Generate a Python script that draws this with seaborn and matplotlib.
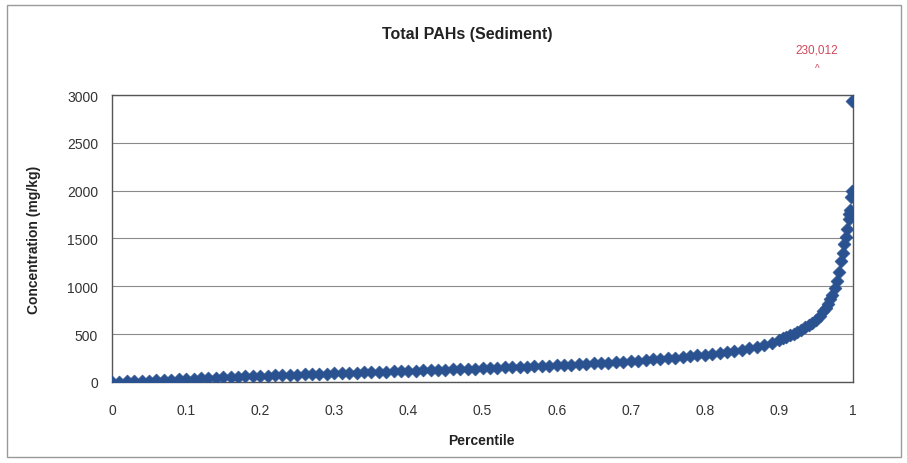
import numpy as np
import pandas as pd
import seaborn as sns
import matplotlib.pyplot as plt
from matplotlib.patches import Rectangle

# percentile ranks and sorted concentrations (mg/kg)
percentile = [
    0.00, 0.01, 0.02, 0.03, 0.04, 0.05, 0.06, 0.07, 0.08, 0.09,
    0.10, 0.11, 0.12, 0.13, 0.14, 0.15, 0.16, 0.17, 0.18, 0.19,
    0.20, 0.21, 0.22, 0.23, 0.24, 0.25, 0.26, 0.27, 0.28, 0.29,
    0.30, 0.31, 0.32, 0.33, 0.34, 0.35, 0.36, 0.37, 0.38, 0.39,
    0.40, 0.41, 0.42, 0.43, 0.44, 0.45, 0.46, 0.47, 0.48, 0.49,
    0.50, 0.51, 0.52, 0.53, 0.54, 0.55, 0.56, 0.57, 0.58, 0.59,
    0.60, 0.61, 0.62, 0.63, 0.64, 0.65, 0.66, 0.67, 0.68, 0.69,
    0.70, 0.71, 0.72, 0.73, 0.74, 0.75, 0.76, 0.77, 0.78, 0.79,
    0.80, 0.81, 0.82, 0.83, 0.84, 0.85, 0.86, 0.87, 0.88, 0.89,
    0.90, 0.905, 0.91, 0.915, 0.92, 0.925, 0.93, 0.935, 0.94, 0.945,
    0.95, 0.955, 0.96, 0.963, 0.966, 0.969, 0.972, 0.975, 0.978, 0.981,
    0.984, 0.986, 0.988, 0.990, 0.992, 0.994, 0.995, 0.996, 0.997, 0.998,
    0.999, 1.00,
]
concentration = [
    2, 5, 8, 10, 12, 14, 17, 20, 23, 26,
    30, 33, 37, 40, 44, 48, 52, 55, 58, 61,
    64, 67, 70, 72, 75, 78, 80, 83, 86, 88,
    91, 93, 96, 98, 101, 103, 106, 108, 111, 113,
    116, 118, 121, 123, 126, 128, 131, 134, 137, 140,
    143, 146, 149, 152, 155, 158, 161, 164, 167, 170,
    174, 178, 182, 186, 190, 194, 198, 203, 208, 213,
    218, 224, 230, 236, 242, 248, 255, 262, 270, 278,
    287, 296, 305, 315, 326, 338, 352, 368, 388, 412,
    440, 455, 470, 488, 505, 525, 548, 570, 595, 620,
    650, 690, 740, 775, 820, 865, 910, 980, 1060, 1150,
    1260, 1350, 1440, 1520, 1600, 1700, 1760, 1800, 1930, 2000,
    2940, 230012,
]
max_label = "230,012"

df = pd.DataFrame({"Percentile": percentile, "Concentration": concentration})

sns.set_style("white")
plt.rcParams["font.family"] = ["Liberation Sans", "DejaVu Sans"]

fig = plt.figure(figsize=(9.07, 4.64), dpi=100)
ax = fig.add_axes([0.1235, 0.1746, 0.817, 0.6185])

sns.scatterplot(data=df, x="Percentile", y="Concentration", marker="D",
                s=44, color="#2b5290", edgecolor="#2b5290", linewidth=0.4,
                ax=ax, zorder=3, clip_on=True)

ax.set_xlim(0, 1)
ax.set_ylim(0, 3000)
ax.set_xticks(np.arange(0, 1.01, 0.1))
ax.set_xticklabels(["0", "0.1", "0.2", "0.3", "0.4", "0.5", "0.6", "0.7", "0.8", "0.9", "1"])
ax.set_yticks(np.arange(0, 3001, 500))
ax.tick_params(axis="both", labelsize=10, colors="#333333", length=4, direction="out")
ax.tick_params(axis="x", pad=11)
ax.tick_params(axis="y", pad=6)
ax.yaxis.grid(True, color="#8a8a8a", linewidth=0.8)
ax.xaxis.grid(False)
for sp in ax.spines.values():
    sp.set_color("#555555")
    sp.set_linewidth(1.0)
ax.set_xlabel("")
ax.set_ylabel("")

fig.text(0.515, 0.925, "Total PAHs (Sediment)", ha="center", va="center",
         fontsize=11.5, fontweight="bold", color="#222222")
fig.text(0.531, 0.05, "Percentile", ha="center", va="center",
         fontsize=10, fontweight="bold", color="#222222")
fig.text(0.037, 0.483, "Concentration (mg/kg)", ha="center", va="center",
         rotation=90, fontsize=10, fontweight="bold", color="#222222")

# off-scale maximum annotation
ax.text(0.951, 3480, max_label, ha="center", va="center", fontsize=8.5,
        color="#d0485a", clip_on=False)
ax.text(0.952, 3280, "^", ha="center", va="center", fontsize=7,
        color="#d0485a", clip_on=False)

fig.patches.append(Rectangle((0.008, 0.012), 0.985, 0.975, transform=fig.transFigure,
                             fill=False, edgecolor="#9a9a9a", linewidth=1.0))

fig.savefig("out.png", dpi=100)
